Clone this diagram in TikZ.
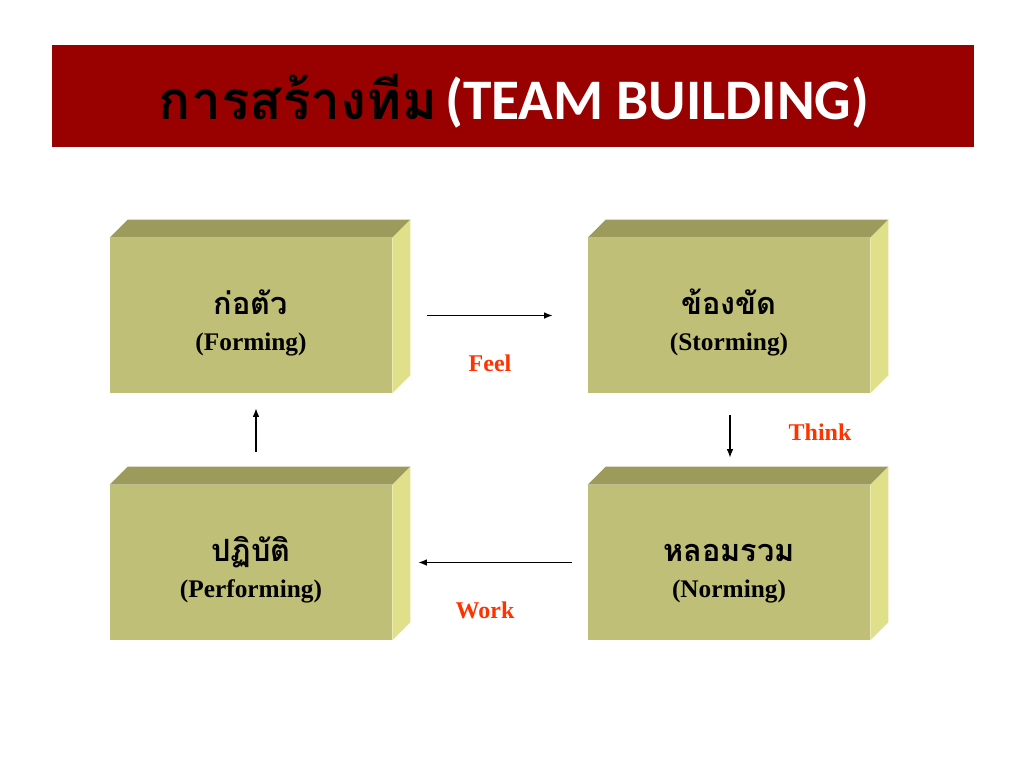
\documentclass[tikz,border=0pt]{standalone}
\usepackage{fontspec}
\usetikzlibrary{arrows.meta}
\setmainfont{Liberation Serif}
\newfontfamily\thaifont[Script=Thai]{Loma}
\newfontfamily\headfont{Carlito}
\definecolor{barred}{HTML}{990000}
\definecolor{boxfront}{HTML}{C0BF78}
\definecolor{boxtop}{HTML}{9D9B5C}
\definecolor{boxside}{HTML}{E0DF8A}
\definecolor{wordred}{HTML}{FF3300}
\newcommand{\thailine}[1]{\rule{0pt}{30pt}{\thaifont\fontsize{23}{26}\selectfont #1}}

\begin{document}
\begin{tikzpicture}[x=0.75pt,y=-0.75pt,
  stagebox/.style={fill=boxfront, minimum width=211.5pt, minimum height=116.25pt,
    inner sep=0pt, align=center, font=\bfseries\fontsize{19}{27}\selectfont},
  stagearrow/.style={-{Latex[length=6.5pt,width=5pt]}, line width=1pt},
  word/.style={text=wordred, font=\bfseries\fontsize{18}{22}\selectfont}]
\useasboundingbox[fill=white] (0,0) rectangle (1024,768);

% Title bar
\fill[barred] (52,45) rectangle (974,147);
\node[anchor=base, inner sep=0pt] (title) at (514,119)
  {{\thaifont\bfseries\fontsize{40}{44}\selectfont การสร้างทีม}\hspace{6pt}\textcolor{white}{\headfont\bfseries\fontsize{43}{48}\selectfont (TEAM BUILDING)}};

% Stages
\node[stagebox] (forming) at (251,315.5) {\thailine{ก่อตัว}\\(Forming)};
\node[stagebox] (storming) at (729,315.5) {\thailine{ข้องขัด}\\(Storming)};
\node[stagebox] (performing) at (251,562.5) {\thailine{ปฏิบัติ}\\(Performing)};
\node[stagebox] (norming) at (729,562.5) {\thailine{หลอมรวม}\\(Norming)};

% 3D faces
\foreach \b in {forming,storming,performing,norming}{
  \fill[boxtop] (\b.north west) -- ([shift={(18,-18)}]\b.north west)
    -- ([shift={(18,-18)}]\b.north east) -- (\b.north east) -- cycle;
  \fill[boxside] (\b.north east) -- ([shift={(18,-18)}]\b.north east)
    -- ([shift={(18,-18)}]\b.south east) -- (\b.south east) -- cycle;
}

% Arrows
\draw[stagearrow, shorten <=35*0.75pt, shorten >=35*0.75pt] (forming.east) -- (storming.west);
\draw[stagearrow, shorten <=22*0.75pt, shorten >=27*0.75pt] ([xshift=0.75pt]storming.south) -- ([xshift=0.75pt]norming.north);
\draw[stagearrow, shorten <=16*0.75pt, shorten >=26*0.75pt] (norming.west) -- (performing.east);
\draw[stagearrow, shorten <=33*0.75pt, shorten >=15*0.75pt] ([xshift=3.75pt]performing.north) -- ([xshift=3.75pt]forming.south);

% Labels
\node[word] (feel) at (490,363) {Feel};
\node[word] (think) at (820,432) {Think};
\node[word] (work) at (485,610) {Work};
\end{tikzpicture}
\end{document}
